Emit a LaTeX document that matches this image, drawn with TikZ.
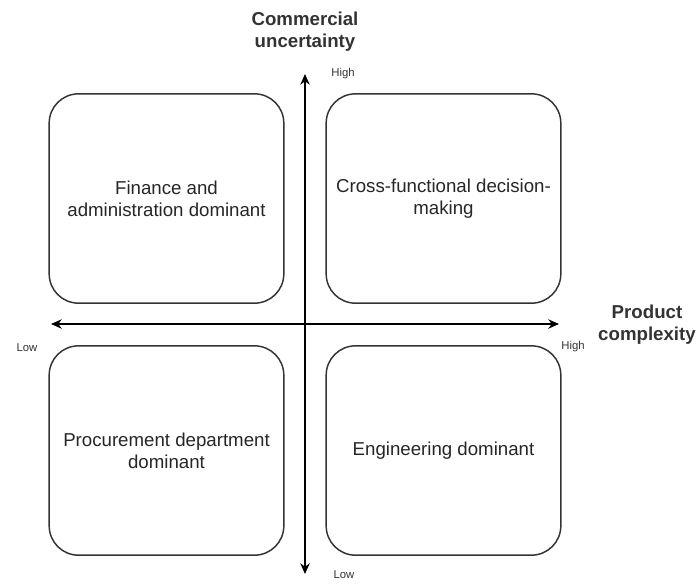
\documentclass[tikz,border=0pt]{standalone}
\usepackage{fontspec}
\setmainfont{Liberation Sans}
\usetikzlibrary{arrows.meta}
\begin{document}
\begin{tikzpicture}[x=0.75pt,y=-0.75pt,
  quad/.style={draw=black!80, line width=1.1pt, rounded corners=22pt,
    minimum width=176pt, minimum height=157pt, align=center,
    text=black!85, font=\fontsize{14}{16.5}\selectfont},
  axis/.style={draw=black, line width=1.1pt,
    {Stealth[length=8pt,width=7pt,inset=2.5pt]}-{Stealth[length=8pt,width=7pt,inset=2.5pt]}},
  tick/.style={text=black!80, font=\fontsize{8.5}{10}\selectfont},
  heading/.style={text=black!80, align=center, font=\bfseries\fontsize{14}{16.5}\selectfont}]
\useasboundingbox (0,0) rectangle (696,583);

% the four quadrants
\node[quad] (fin)  at (166.5,198.5) {Finance and\\administration dominant};
\node[quad] (cross) at (443.5,198.5) {Cross-functional decision-\\making};
\node[quad] (proc) at (166.5,450.5) {Procurement department\\dominant};
\node[quad] (eng)  at (443.5,450.5) {Engineering dominant};

% axis end points
\coordinate (ytop) at (305,74);
\coordinate (ybot) at (305,574);
\coordinate (xleft) at (51,324);
\coordinate (xright) at (559,324);

\draw[axis] (ybot) -- (ytop);
\draw[axis] (xleft) -- (xright);

% axis labels
\node[heading] (ytitle) at (305,32) {Commercial\\uncertainty};
\node[heading] (xtitle) at (647,325) {Product\\complexity};
\node[tick] (yhigh) at (343,74) {High};
\node[tick] (ylow) at (344,575) {Low};
\node[tick] (xlow) at (27,348) {Low};
\node[tick] (xhigh) at (573,347) {High};
\end{tikzpicture}
\end{document}
